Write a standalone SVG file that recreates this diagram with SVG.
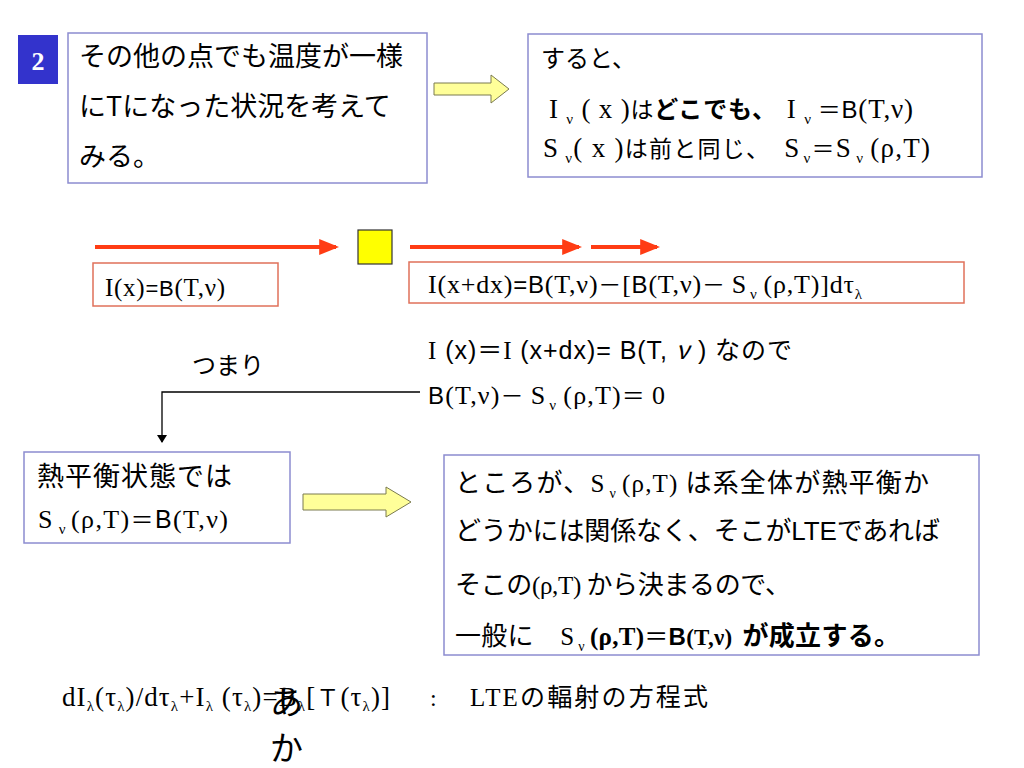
<svg xmlns="http://www.w3.org/2000/svg" width="1024" height="768" viewBox="0 0 1024 768">
<defs>
<style>
.jp{font-family:"Noto Sans CJK JP","Liberation Sans",sans-serif;fill:#000}
.sf{font-family:"Liberation Serif","Noto Sans CJK JP",serif;fill:#000}
.ss{font-family:"Liberation Sans","Noto Sans CJK JP",sans-serif;fill:#000}
.b{font-weight:bold}
.pbox{fill:#fff;stroke:#8c8cd0;stroke-width:1.5}
.rbox{fill:#fff;stroke:#e0705a;stroke-width:1.5}
.yarrow{fill:#ffff99;stroke:#7a7a50;stroke-width:1}
.red{stroke:#ff3c14;stroke-width:4;fill:none}
.conn{stroke:#000;stroke-width:1.3;fill:none}
</style>
<marker id="redhead" markerWidth="5" markerHeight="4" refX="4.2" refY="2" orient="auto" markerUnits="strokeWidth">
<path d="M0,0 L5,2 L0,4 Z" fill="#ff3c14"/>
</marker>
<marker id="blkhead" markerWidth="8" markerHeight="10" refX="7" refY="5" orient="auto" markerUnits="userSpaceOnUse">
<path d="M0,0 L8,5 L0,10 Z" fill="#000"/>
</marker>
</defs>
<rect width="1024" height="768" fill="#fff"/>

<g id="badge">
<rect x="18" y="35" width="40" height="49" fill="#3333cc"/>
<text x="38" y="70" text-anchor="middle" font-family="Liberation Serif,serif" font-weight="bold" font-size="26" fill="#fff">2</text>
</g>

<g id="box1">
<rect class="pbox" x="68" y="33" width="359" height="150"/>
<text class="jp" font-size="27" x="79" y="66">その他の点でも温度が一様</text>
<text class="jp" font-size="27" x="79" y="116">にTになった状況を考えて</text>
<text class="jp" font-size="27" x="79" y="166">みる。</text>
</g>

<g id="arrow1">
<polygon class="yarrow" points="434,83 491,83 491,75 509,89 491,103 491,95 434,95"/>
</g>

<g id="box2">
<rect class="pbox" x="528" y="34" width="454" height="143"/>
<text class="jp" font-size="24" x="541" y="67">すると、</text>
<text x="549" y="118" font-size="27" textLength="364" lengthAdjust="spacing"><tspan class="sf">I </tspan><tspan class="sf" font-size="15" dy="6">ν</tspan><tspan class="sf" dy="-6"> ( x )</tspan><tspan class="jp" font-size="23">は</tspan><tspan class="jp b" font-size="24">どこでも、</tspan><tspan class="sf" dx="10">I </tspan><tspan class="sf" font-size="15" dy="6">ν</tspan><tspan class="jp" font-size="23" dy="-6" dx="6">＝</tspan><tspan class="ss" font-size="24">B</tspan><tspan class="sf">(T,ν)</tspan></text>
<text x="543" y="157" font-size="27" textLength="387" lengthAdjust="spacing"><tspan class="sf">S</tspan><tspan class="sf" font-size="15" dy="6" dx="6">ν</tspan><tspan class="sf" dy="-6">( x )</tspan><tspan class="jp" font-size="23">は前と同じ、</tspan><tspan class="sf" dx="14">S</tspan><tspan class="sf" font-size="15" dy="6" dx="3">ν</tspan><tspan class="jp" font-size="23" dy="-6">＝</tspan><tspan class="sf">S</tspan><tspan class="sf" font-size="15" dy="6" dx="4">ν</tspan><tspan class="sf" dy="-6" dx="6">(ρ,T)</tspan></text>
</g>

<g id="cell">
<rect x="358" y="230" width="34" height="34" fill="#ffff00" stroke="#333" stroke-width="1.2"/>
</g>

<g id="boxIx">
<rect class="rbox" x="93" y="263" width="185" height="43"/>
<text x="105" y="296" font-size="25" textLength="120" lengthAdjust="spacing"><tspan class="sf">I(x)</tspan><tspan class="ss" font-size="22">=B</tspan><tspan class="sf">(T,ν)</tspan></text>
</g>

<g id="boxIxdx">
<rect class="rbox" x="409" y="262" width="555" height="41"/>
<text x="428" y="293" font-size="26" textLength="434" lengthAdjust="spacing"><tspan class="sf">I(x+dx)</tspan><tspan class="ss" font-size="24">=B</tspan><tspan class="sf">(T,ν)</tspan><tspan class="jp" font-size="23">－</tspan><tspan class="sf">[</tspan><tspan class="ss" font-size="24">B</tspan><tspan class="sf">(T,ν)</tspan><tspan class="jp" font-size="23">－</tspan><tspan class="sf" dx="6">S</tspan><tspan class="sf" font-size="15" dy="6" dx="3">ν</tspan><tspan class="sf" dy="-6" dx="6">(ρ,T)]dτ</tspan><tspan class="sf" font-size="15" dy="6">λ</tspan></text>
</g>

<g id="text-tsumari">
<text class="jp" font-size="24" x="192" y="374">つまり</text>
</g>

<g id="text-eq">
<text x="428" y="359" font-size="25" textLength="364" lengthAdjust="spacing"><tspan class="sf">I</tspan><tspan class="ss"> (x)</tspan><tspan class="jp">＝</tspan><tspan class="sf">I</tspan><tspan class="ss"> (x+dx)= B(T, </tspan><tspan class="jp" font-style="italic">ν</tspan><tspan class="ss"> ) </tspan><tspan class="jp">なので</tspan></text>
<text x="428" y="404" font-size="26" textLength="237" lengthAdjust="spacing"><tspan class="ss" font-size="24">B</tspan><tspan class="sf">(T,ν)</tspan><tspan class="jp" font-size="23">－</tspan><tspan class="sf" dx="6">S</tspan><tspan class="sf" font-size="15" dy="6" dx="3">ν</tspan><tspan class="sf" dy="-6" dx="6">(ρ,T)</tspan><tspan class="jp" font-size="23">＝</tspan><tspan class="sf" dx="6">0</tspan></text>
</g>

<g id="box-thermal">
<rect class="pbox" x="24" y="452" width="266" height="91"/>
<text class="jp" font-size="27" x="37" y="486" letter-spacing="1">熱平衡状態では</text>
<text x="38" y="528" font-size="26" textLength="190" lengthAdjust="spacing"><tspan class="sf">S</tspan><tspan class="sf" font-size="15" dy="6" dx="5">ν</tspan><tspan class="sf" dy="-6" dx="4">(ρ,T)</tspan><tspan class="jp" font-size="23">＝</tspan><tspan class="ss" font-size="25">B</tspan><tspan class="sf">(T,ν)</tspan></text>
</g>

<g id="arrow2">
<polygon class="yarrow" points="303,494 386,494 386,487 411,502 386,517 386,510 303,510"/>
</g>

<g id="box-lte">
<rect class="pbox" x="444" y="455" width="535" height="200"/>
<text x="455" y="492" font-size="26" textLength="474" lengthAdjust="spacing"><tspan class="jp">ところが、</tspan><tspan class="sf" font-size="25">S</tspan><tspan class="sf" font-size="14" dy="6" dx="4">ν</tspan><tspan class="sf" font-size="25" dy="-6" dx="5">(ρ,T)</tspan><tspan class="jp"> は系全体が熱平衡か</tspan></text>
<text x="455" y="540" font-size="26" textLength="485" lengthAdjust="spacing"><tspan class="jp">どうかには関係なく、そこが</tspan><tspan class="ss">LTE</tspan><tspan class="jp">であれば</tspan></text>
<text x="455" y="594" font-size="26" textLength="336" lengthAdjust="spacing"><tspan class="jp">そこの</tspan><tspan class="sf" font-size="25">(ρ,T)</tspan><tspan class="jp"> から決まるので、</tspan></text>
<text x="455" y="645" font-size="26" textLength="445" lengthAdjust="spacing"><tspan class="jp">一般に　</tspan><tspan class="sf" font-size="25">S</tspan><tspan class="sf" font-size="14" dy="6" dx="4">ν</tspan><tspan class="sf b" font-size="25" dy="-6" dx="5">(ρ,T)</tspan><tspan class="jp" font-size="24">＝</tspan><tspan class="ss b" font-size="24">B</tspan><tspan class="sf b" font-size="23">(T,ν)</tspan><tspan class="jp b" dx="10">が成立する。</tspan></text>
</g>

<g id="connectors">
<line class="red" x1="95" y1="247" x2="336" y2="247" marker-end="url(#redhead)"/>
<line class="red" x1="410" y1="247" x2="579" y2="247" marker-end="url(#redhead)"/>
<line class="red" x1="591" y1="247" x2="657" y2="247" marker-end="url(#redhead)"/>
<polyline class="conn" points="420,392 162,392 162,442" marker-end="url(#blkhead)"/>
</g>

<g id="bottom-eq">
<text x="62" y="706" font-size="27" textLength="328" lengthAdjust="spacing"><tspan class="sf">dI</tspan><tspan class="sf" font-size="15" dy="5">λ</tspan><tspan class="sf" dy="-5">(τ</tspan><tspan class="sf" font-size="15" dy="5">λ</tspan><tspan class="sf" dy="-5">)/dτ</tspan><tspan class="sf" font-size="15" dy="5">λ</tspan><tspan class="sf" dy="-5">+I</tspan><tspan class="sf" font-size="15" dy="5">λ</tspan><tspan class="sf" dy="-5"> (τ</tspan><tspan class="sf" font-size="15" dy="5">λ</tspan><tspan class="sf" dy="-5">)=B</tspan><tspan class="sf" font-size="15" dy="5">λ</tspan><tspan class="sf" dy="-5">[</tspan><tspan class="jp" font-size="23">Ｔ</tspan><tspan class="sf">(τ</tspan><tspan class="sf" font-size="15" dy="5">λ</tspan><tspan class="sf" dy="-5">)]</tspan></text>
<text class="sf" x="430" y="706" font-size="24">:</text>
<text x="470" y="706" font-size="25" textLength="238" lengthAdjust="spacing"><tspan class="sf">LTE</tspan><tspan class="jp">の輻射の方程式</tspan></text>
<text class="jp" x="270" y="714" font-size="33">あ</text>
<text class="jp" x="270" y="760" font-size="33">か</text>
</g>
</svg>
